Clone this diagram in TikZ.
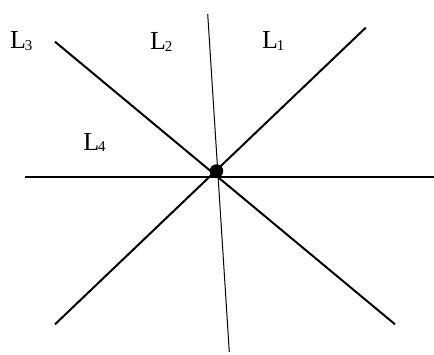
\documentclass[tikz,border=0pt]{standalone}
\usepackage{fontspec}
\setmainfont{Liberation Serif}
\newcommand{\lab}[1]{\fontsize{26}{26}\selectfont L\kern-1pt\raisebox{-1.5pt}{\fontsize{15}{15}\selectfont #1}}
\begin{document}
\begin{tikzpicture}[x=1pt,y=-1pt,
  thickline/.style={line width=2pt,black},
  thinline/.style={line width=1pt,black},
  lbl/.style={anchor=base west,inner sep=0pt,outer sep=0pt}]
\useasboundingbox (0,0) rectangle (434,354);
% endpoints
\coordinate (hA) at (25,177);
\coordinate (hB) at (434,177);
\coordinate (vA) at (207.7,14);
\coordinate (vB) at (229.3,352);
\coordinate (aA) at (55,41.7);
\coordinate (aB) at (395,324.3);
\coordinate (bA) at (365.7,27.7);
\coordinate (bB) at (55,324.3);
\draw[thickline] (hA) -- (hB);
\draw[thickline] (aA) -- (aB);
\draw[thickline] (bA) -- (bB);
\draw[thinline] (vA) -- (vB);
\node[circle,fill=black,inner sep=0pt,minimum size=13.5pt] (dot) at (216.5,171) {};
\node[lbl] (l3) at (10,48.5) {\lab{3}};
\node[lbl] (l2) at (150,49.5) {\lab{2}};
\node[lbl] (l1) at (262,48.5) {\lab{1}};
\node[lbl] (l4) at (83.3,150) {\lab{4}};
\end{tikzpicture}
\end{document}
